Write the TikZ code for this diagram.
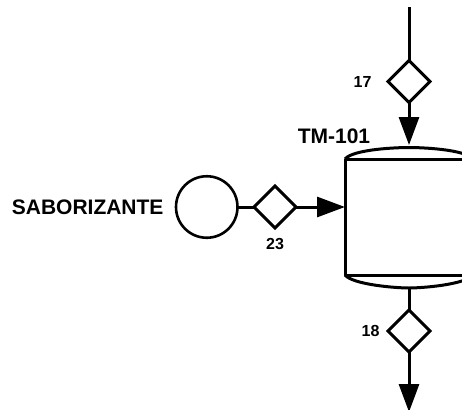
\documentclass[tikz,border=0pt]{standalone}
\usepackage{fontspec}
\setmainfont{Liberation Sans}
\usetikzlibrary{arrows.meta,positioning,shapes.geometric}

\begin{document}
\begin{tikzpicture}[
  x=1pt,y=1pt,
  line width=3pt,
  tag/.style={inner sep=0pt,font=\fontsize{16}{16}\selectfont\bfseries},
  title/.style={inner sep=0pt,font=\fontsize{21}{21}\selectfont\bfseries},
  valve/.style={draw,diamond,aspect=1,inner sep=0pt,outer sep=0pt,minimum size=42pt},
  pump/.style={draw,circle,inner sep=0pt,outer sep=0pt,minimum size=61.5pt,line width=2.6pt},
  vessel/.style={inner sep=0pt,outer sep=0pt,minimum width=128pt,minimum height=116pt},
  flow/.style={-{Triangle[length=28pt,width=20pt]}}
]
\useasboundingbox (0,0) rectangle (462,-409);
\clip (0,0) rectangle (462,-409);
\node[vessel] (tank) at (409,-217) {};
\coordinate[above=11.5pt of tank.north] (headtop);
\coordinate[below=13pt of tank.south] (headbot);
\draw[line join=round] (tank.north west) rectangle (tank.south east);
\draw (tank.north west) to[out=50,in=180,looseness=.5] (headtop)
  to[out=0,in=130,looseness=.5] (tank.north east);
\draw (tank.south west) to[out=-50,in=180,looseness=.5] (headbot)
  to[out=0,in=-130,looseness=.5] (tank.south east);
\node[title,anchor=center] (tmlabel) at (334,-136) {TM-101};

\node[valve,above=45pt of headtop] (v17) {};
\node[tag,left=15pt of v17] (l17) {17};
\coordinate[above=53pt of v17.north] (feed);
\draw (feed) -- (v17);
\draw[flow,shorten >=2.5pt] (v17) -- (headtop);

\node[valve,below=22pt of headbot] (v18) {};
\node[tag,left=7pt of v18] (l18) {18};
\coordinate[below=60pt of v18.south] (drain);
\draw (headbot) -- (v18);
\draw[flow] (v18) -- (drain);

\node[valve] (v23) at (275,-207) {};
\node[tag,below=9pt of v23] (l23) {23};
\node[pump,left=16.5pt of v23] (flavor) {};
\node[title,left=11pt of flavor] (lflavor) {SABORIZANTE};
\draw (flavor) -- (v23);
\draw[flow] (v23) -- (v23 -| tank.west);
\end{tikzpicture}
\end{document}
